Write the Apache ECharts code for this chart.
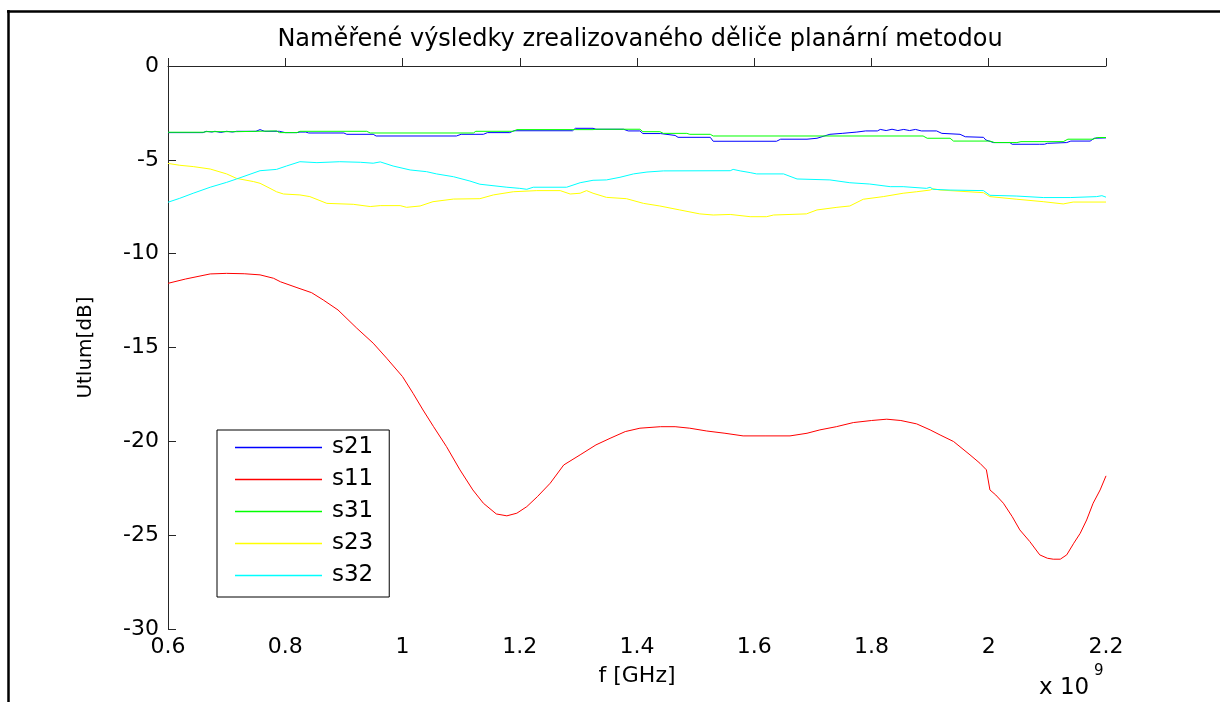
<!DOCTYPE html>
<html>
<head>
<meta charset="utf-8">
<script src="https://cdn.jsdelivr.net/npm/echarts@6/dist/echarts.min.js"></script>
<style>html,body{margin:0;padding:0;background:#fff}#c{width:1220px;height:702px}</style>
</head>
<body>
<div id="c"></div>
<script>
// ---- data (frequency in GHz, values in dB) ----
const titleText = 'Naměřené výsledky zrealizovaného děliče planární metodou';
const xTicks = [0.6, 0.8, 1.0, 1.2, 1.4, 1.6, 1.8, 2.0, 2.2];
const yTicks = [0, -5, -10, -15, -20, -25, -30];
const seriesNames = ['s21', 's11', 's31', 's23', 's32'];

const s21_f = [0.6,0.66,0.665,0.675,0.68,0.69,0.70,0.71,0.717,0.75,0.757,0.765,0.79,0.80,0.82,0.825,0.835,0.84,0.90,0.905,0.95,0.955,1.092,1.10,1.138,1.145,1.183,1.19,1.29,1.295,1.325,1.33,1.377,1.385,1.405,1.41,1.44,1.465,1.47,1.525,1.53,1.638,1.645,1.69,1.707,1.729,1.75,1.775,1.79,1.81,1.815,1.825,1.835,1.845,1.855,1.865,1.875,1.885,1.911,1.92,1.951,1.96,1.991,1.995,2.008,2.036,2.04,2.087,2.09,2.095,2.10,2.133,2.14,2.173,2.18,2.2];
const s21_v = [-3.55,-3.55,-3.48,-3.52,-3.48,-3.54,-3.48,-3.52,-3.48,-3.48,-3.39,-3.48,-3.48,-3.55,-3.55,-3.52,-3.52,-3.57,-3.57,-3.64,-3.64,-3.73,-3.73,-3.64,-3.64,-3.55,-3.55,-3.45,-3.45,-3.32,-3.32,-3.37,-3.37,-3.46,-3.46,-3.60,-3.60,-3.70,-3.80,-3.80,-4.01,-4.01,-3.90,-3.90,-3.85,-3.64,-3.59,-3.52,-3.46,-3.46,-3.38,-3.44,-3.37,-3.44,-3.38,-3.44,-3.38,-3.46,-3.46,-3.59,-3.64,-3.77,-3.80,-3.94,-4.08,-4.08,-4.17,-4.17,-4.10,-4.17,-4.12,-4.08,-4.00,-4.00,-3.85,-3.83];

const s11_f = [0.6,0.63,0.672,0.70,0.73,0.757,0.78,0.792,0.82,0.845,0.865,0.89,0.922,0.95,0.973,1.0,1.018,1.035,1.053,1.075,1.098,1.12,1.138,1.16,1.178,1.195,1.212,1.23,1.252,1.275,1.303,1.33,1.354,1.38,1.405,1.44,1.465,1.49,1.519,1.55,1.581,1.62,1.661,1.69,1.712,1.74,1.769,1.80,1.826,1.85,1.877,1.90,1.917,1.94,1.968,1.985,1.996,2.002,2.012,2.025,2.04,2.053,2.07,2.087,2.10,2.11,2.122,2.133,2.145,2.156,2.167,2.178,2.19,2.2];
const s11_v = [-11.58,-11.35,-11.08,-11.05,-11.07,-11.13,-11.31,-11.5,-11.81,-12.08,-12.47,-13.0,-13.97,-14.77,-15.57,-16.55,-17.44,-18.33,-19.22,-20.28,-21.52,-22.59,-23.30,-23.87,-23.97,-23.83,-23.48,-22.95,-22.23,-21.26,-20.72,-20.19,-19.84,-19.48,-19.30,-19.22,-19.22,-19.30,-19.45,-19.57,-19.71,-19.71,-19.71,-19.57,-19.39,-19.22,-19.00,-18.89,-18.82,-18.89,-19.07,-19.39,-19.66,-20.01,-20.72,-21.17,-21.52,-22.59,-22.86,-23.30,-24.01,-24.72,-25.34,-26.05,-26.23,-26.28,-26.28,-26.05,-25.43,-24.90,-24.19,-23.30,-22.59,-21.84];

const s31_f = [0.6,0.66,0.665,0.717,0.72,0.785,0.79,0.82,0.825,0.939,0.945,1.121,1.125,1.189,1.195,1.325,1.33,1.405,1.41,1.439,1.445,1.485,1.49,1.525,1.53,1.888,1.895,1.934,1.94,2.002,2.01,2.048,2.055,2.127,2.135,2.178,2.185,2.2];
const s31_v = [-3.53,-3.53,-3.50,-3.50,-3.46,-3.46,-3.55,-3.55,-3.48,-3.48,-3.57,-3.57,-3.48,-3.48,-3.39,-3.39,-3.37,-3.37,-3.50,-3.50,-3.59,-3.59,-3.64,-3.64,-3.73,-3.73,-3.85,-3.85,-4.00,-4.00,-4.08,-4.08,-4.03,-4.03,-3.90,-3.90,-3.81,-3.81];

const s23_f = [0.6,0.62,0.643,0.672,0.70,0.717,0.746,0.757,0.774,0.785,0.797,0.825,0.842,0.871,0.916,0.945,0.962,0.996,1.007,1.030,1.052,1.087,1.132,1.155,1.189,1.229,1.269,1.286,1.303,1.314,1.325,1.348,1.382,1.411,1.439,1.473,1.507,1.530,1.559,1.593,1.621,1.633,1.689,1.707,1.741,1.763,1.786,1.820,1.854,1.877,1.900,1.905,1.917,1.934,1.991,2.002,2.048,2.093,2.127,2.144,2.2];
const s23_v = [-5.19,-5.29,-5.36,-5.49,-5.75,-5.99,-6.16,-6.25,-6.52,-6.70,-6.82,-6.87,-6.96,-7.32,-7.37,-7.49,-7.44,-7.44,-7.53,-7.46,-7.23,-7.09,-7.07,-6.87,-6.70,-6.64,-6.64,-6.82,-6.78,-6.64,-6.78,-7.00,-7.07,-7.32,-7.46,-7.67,-7.88,-7.94,-7.91,-8.03,-8.03,-7.94,-7.88,-7.67,-7.53,-7.46,-7.10,-6.96,-6.78,-6.70,-6.61,-6.54,-6.61,-6.64,-6.75,-6.96,-7.10,-7.23,-7.35,-7.25,-7.25];

const s32_f = [0.6,0.62,0.643,0.672,0.70,0.717,0.757,0.785,0.802,0.825,0.854,0.893,0.928,0.950,0.962,0.984,1.013,1.041,1.058,1.087,1.115,1.132,1.178,1.200,1.212,1.223,1.280,1.303,1.325,1.348,1.371,1.394,1.417,1.445,1.559,1.564,1.576,1.593,1.604,1.650,1.673,1.729,1.763,1.797,1.832,1.854,1.894,1.900,1.905,1.934,1.991,2.002,2.048,2.093,2.139,2.184,2.193,2.2];
const s32_v = [-7.26,-7.05,-6.78,-6.46,-6.20,-6.02,-5.58,-5.51,-5.33,-5.10,-5.15,-5.10,-5.13,-5.18,-5.11,-5.33,-5.54,-5.63,-5.75,-5.90,-6.13,-6.30,-6.46,-6.52,-6.57,-6.46,-6.46,-6.22,-6.09,-6.07,-5.93,-5.75,-5.65,-5.59,-5.58,-5.51,-5.59,-5.68,-5.75,-5.75,-6.02,-6.07,-6.22,-6.29,-6.43,-6.43,-6.52,-6.46,-6.57,-6.61,-6.64,-6.89,-6.93,-7.01,-7.01,-6.96,-6.91,-6.99];

const seriesColors = ['#0000ff', '#ff0000', '#00ff00', '#ffff00', '#00ffff'];

function pairs(f, v) { return f.map((x, i) => [x, v[i]]); }
const seriesData = [pairs(s21_f, s21_v), pairs(s11_f, s11_v), pairs(s31_f, s31_v), pairs(s23_f, s23_v), pairs(s32_f, s32_v)];

const FONT = 'DejaVu Sans';
const chart = echarts.init(document.getElementById('c'), null, { renderer: 'canvas' });
chart.setOption({
  animation: false,
  backgroundColor: '#fff',
  grid: { left: 168, right: 114, top: 66, bottom: 73, containLabel: false },
  xAxis: {
    type: 'value', min: xTicks[0], max: xTicks[xTicks.length - 1], interval: 0.2,
    name: 'f [GHz]', nameLocation: 'middle', nameGap: 36,
    nameTextStyle: { fontFamily: FONT, fontSize: 22, color: '#000' },
    axisLine: { show: true, lineStyle: { color: '#262626', width: 1 } },
    axisTick: { show: true, inside: true, length: 8, lineStyle: { color: '#262626' } },
    axisLabel: { fontFamily: FONT, fontSize: 22, color: '#000', margin: 7,
      formatter: v => String(parseFloat(v.toFixed(1))) },
    splitLine: { show: false }
  },
  yAxis: {
    type: 'value', min: yTicks[yTicks.length - 1], max: yTicks[0], interval: 5,
    name: 'Utlum[dB]', nameLocation: 'middle', nameGap: 72, nameRotate: 90,
    nameTextStyle: { fontFamily: FONT, fontSize: 20, color: '#000' },
    axisLine: { show: true, lineStyle: { color: '#262626', width: 1 } },
    axisTick: { show: true, inside: true, length: 8, lineStyle: { color: '#262626' } },
    axisLabel: { fontFamily: FONT, fontSize: 22, color: '#000', margin: 9 },
    splitLine: { show: false }
  },
  legend: {
    orient: 'vertical', left: 217, top: 430,
    data: seriesNames,
    icon: 'rect', itemWidth: 87, itemHeight: 1.5, itemGap: 9,
    padding: [6, 16, 10, 18],
    borderColor: '#000', borderWidth: 1, backgroundColor: '#fff',
    textStyle: { fontFamily: FONT, fontSize: 23, color: '#000', lineHeight: 22, padding: [0, 0, 0, 5] }
  },
  series: seriesNames.map((n, i) => ({
    name: n, type: 'line', data: seriesData[i], smooth: false,
    showSymbol: false, symbol: 'none',
    lineStyle: { color: seriesColors[i], width: 1 },
    itemStyle: { color: seriesColors[i] },
    z: 2
  })),
  graphic: [
    { type: 'text', x: 640, y: 40, style: { text: titleText, font: '24px "DejaVu Sans"', fill: '#000', textAlign: 'center', textVerticalAlign: 'middle' } },
    { type: 'text', x: 1039, y: 677, style: { text: 'x 10', font: '23px "DejaVu Sans"', fill: '#000' } },
    { type: 'text', x: 1094, y: 664, style: { text: '9', font: '15px "DejaVu Sans"', fill: '#000' } },
    { type: 'line', shape: { x1: 7, y1: 11.5, x2: 1220, y2: 11.5 }, style: { stroke: '#000', lineWidth: 2.5 } },
    { type: 'line', shape: { x1: 8.5, y1: 10, x2: 8.5, y2: 702 }, style: { stroke: '#000', lineWidth: 2.5 } }
  ]
});
</script>
</body>
</html>
